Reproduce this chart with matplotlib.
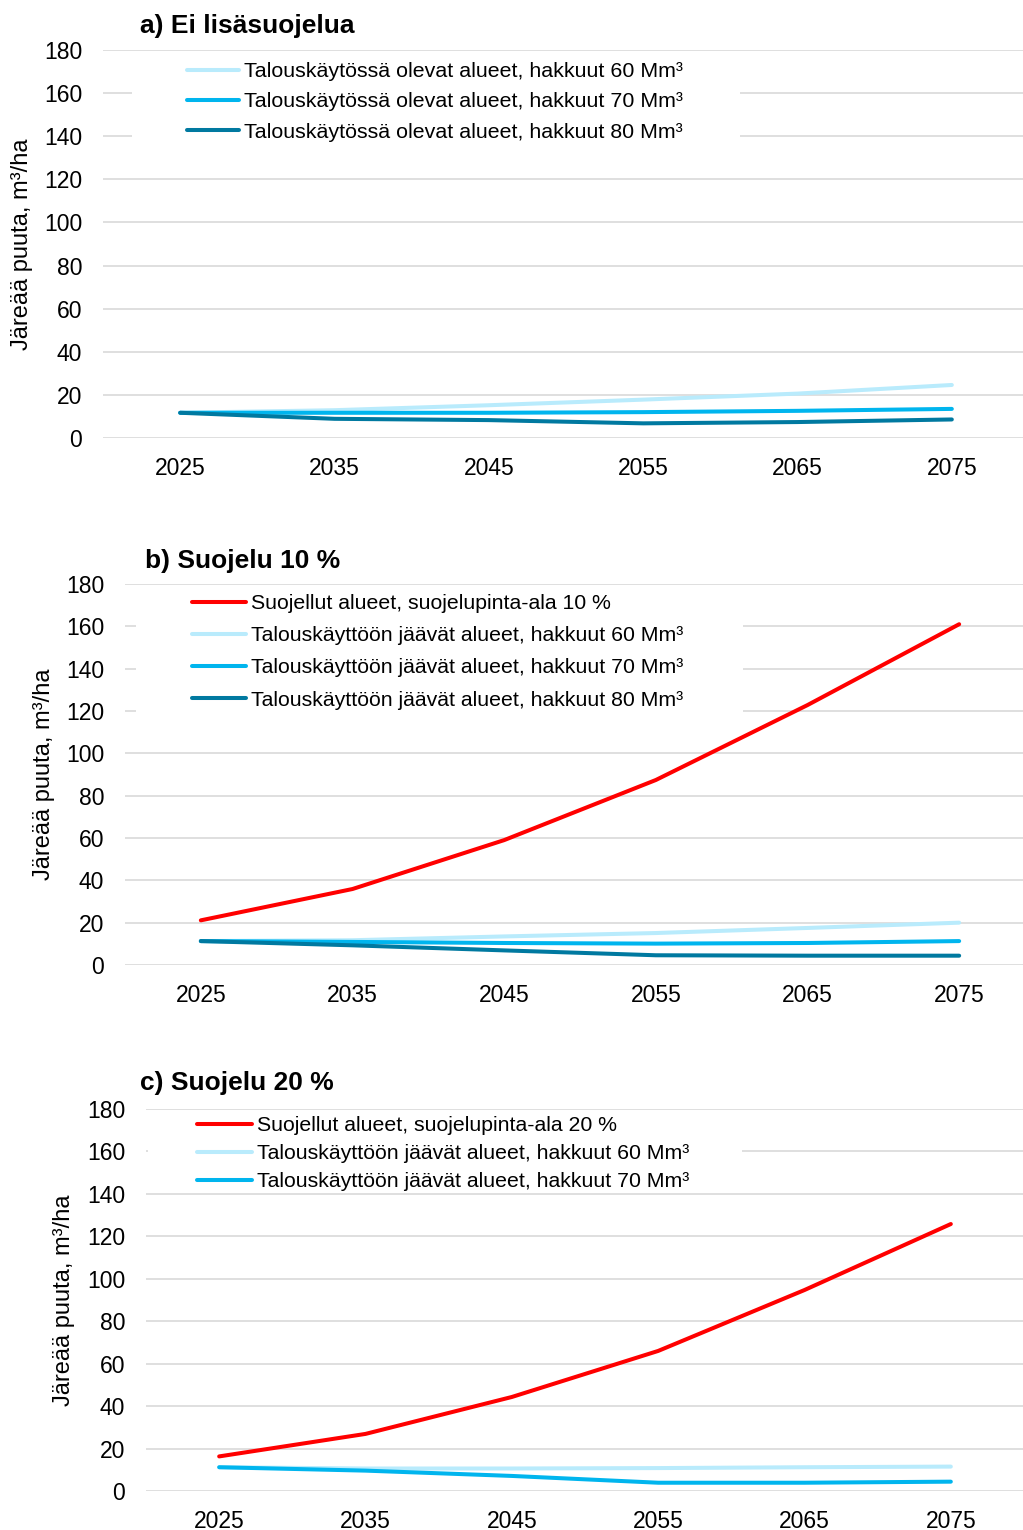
import numpy as np
import matplotlib
matplotlib.use("Agg")
import matplotlib.pyplot as plt
from matplotlib.patches import Rectangle

plt.rcParams['font.family'] = ['Liberation Sans', 'DejaVu Sans']

# data
years = [2025, 2035, 2045, 2055, 2065, 2075]

a_hakkuu_60 = [11.7, 12.9, 15.2, 17.8, 20.6, 24.6]
a_hakkuu_70 = [11.7, 11.7, 11.7, 12.0, 12.6, 13.5]
a_hakkuu_80 = [11.7, 8.9, 8.3, 6.8, 7.4, 8.6]

b_suojeltu = [21.1, 35.9, 59.0, 87.4, 122.8, 161.0]
b_hakkuu_60 = [11.3, 11.7, 13.5, 15.1, 17.5, 20.0]
b_hakkuu_70 = [11.3, 10.9, 10.4, 10.1, 10.4, 11.3]
b_hakkuu_80 = [11.3, 9.3, 6.9, 4.6, 4.4, 4.4]

c_suojeltu = [16.3, 26.9, 44.3, 66.0, 94.7, 125.8]
c_hakkuu_60 = [11.2, 10.6, 10.6, 10.8, 11.2, 11.5]
c_hakkuu_70 = [11.2, 9.6, 7.1, 3.9, 3.9, 4.4]

y_ticks = [0, 20, 40, 60, 80, 100, 120, 140, 160, 180]
y_label = 'Järeää puuta, m³/ha'

labels_a = ['Talouskäytössä olevat alueet, hakkuut 60 Mm³',
            'Talouskäytössä olevat alueet, hakkuut 70 Mm³',
            'Talouskäytössä olevat alueet, hakkuut 80 Mm³']
labels_b = ['Suojellut alueet, suojelupinta-ala 10 %',
            'Talouskäyttöön jäävät alueet, hakkuut 60 Mm³',
            'Talouskäyttöön jäävät alueet, hakkuut 70 Mm³',
            'Talouskäyttöön jäävät alueet, hakkuut 80 Mm³']
labels_c = ['Suojellut alueet, suojelupinta-ala 20 %',
            'Talouskäyttöön jäävät alueet, hakkuut 60 Mm³',
            'Talouskäyttöön jäävät alueet, hakkuut 70 Mm³']

RED = '#FF0000'
LIGHT = '#B9EBFC'
MID = '#00B5EE'
DARK = '#0079A0'

W, H = 1023, 1530
fig = plt.figure(figsize=(W / 100, H / 100), dpi=100)


def fx(px):
    return px / W


def fy(py):
    return 1 - py / H


def plot_panel(series, colors, labels, title, box, title_xy, ylabel_x,
               legend_xy, legend_fs, legend_sp, handle_len, white_box):
    left, right, top, bottom = box
    ax = fig.add_axes([fx(left), fy(bottom), (right - left) / W, (bottom - top) / H])
    x = np.arange(len(years))
    for values, color, label in zip(series, colors, labels):
        ax.plot(x, values, color=color, lw=2.9, label=label,
                solid_capstyle='round', solid_joinstyle='round', zorder=2)

    ax.set_xticks(x)
    ax.set_xticklabels([str(y) for y in years])
    ax.set_yticks(y_ticks)
    ax.tick_params(axis='both', length=0, labelsize=16.5, colors='black')
    ax.tick_params(axis='x', pad=14)
    ax.tick_params(axis='y', pad=15)
    for s in ax.spines.values():
        s.set_visible(False)
    ax.set_axisbelow(True)
    ax.grid(axis='y', color='#D9D9D9', lw=1.2)
    ax.set_facecolor('none')

    # white area behind the legend hides the gridlines
    bx0, bx1, by0, by1 = white_box
    ax.add_patch(Rectangle((fx(bx0), fy(by1)), (bx1 - bx0) / W, (by1 - by0) / H,
                           transform=fig.transFigure, facecolor='white',
                           edgecolor='none', zorder=1, clip_on=False))
    ax.set_xlim(-0.5, len(years) - 0.5)
    ax.set_ylim(0, 180)

    ax.legend(loc='upper left', bbox_to_anchor=(fx(legend_xy[0]), fy(legend_xy[1])),
              bbox_transform=fig.transFigure, frameon=False, borderpad=0,
              borderaxespad=0, fontsize=legend_fs, labelspacing=legend_sp,
              handlelength=handle_len, handletextpad=0.2)

    fig.text(fx(title_xy[0]), fy(title_xy[1]), title, fontsize=19,
             fontweight='bold', ha='left', va='center')
    fig.text(fx(ylabel_x), fy((top + bottom) / 2), y_label, fontsize=17,
             rotation=90, ha='center', va='center')
    return ax


plot_panel([a_hakkuu_60, a_hakkuu_70, a_hakkuu_80], [LIGHT, MID, DARK], labels_a,
           'a) Ei lisäsuojelua', (103, 1029, 50, 438), (140, 26), 22,
           (187, 62), 15.4, 0.53, 2.45, (132, 740, 62, 150))

plot_panel([b_suojeltu, b_hakkuu_60, b_hakkuu_70, b_hakkuu_80],
           [RED, LIGHT, MID, DARK], labels_b,
           'b) Suojelu 10 %', (125, 1035, 584, 965), (145, 561), 44,
           (192, 594), 15.35, 0.62, 2.55, (136, 743, 592, 720))

plot_panel([c_suojeltu, c_hakkuu_60, c_hakkuu_70], [RED, LIGHT, MID], labels_c,
           'c) Suojelu 20 %', (146, 1024, 1109, 1491), (140, 1083), 64,
           (197, 1116), 15.35, 0.43, 2.6, (148, 742, 1112, 1190))

fig.savefig('out.png', dpi=100)
